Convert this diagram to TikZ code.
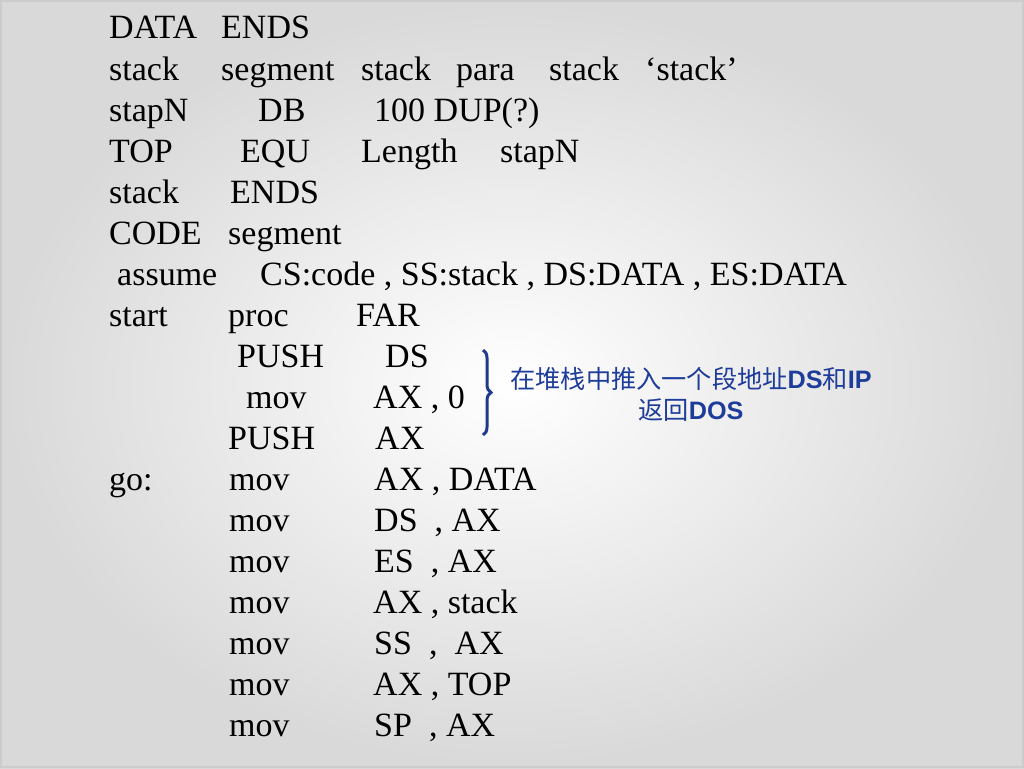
\documentclass[tikz,border=0pt]{standalone}
\usepackage{fontspec}
\setmainfont{Liberation Serif}
\newfontfamily\cjk{Noto Sans CJK SC}
\newfontfamily\arialb{Liberation Sans}[UprightFont=* Bold]
\usetikzlibrary{decorations.pathreplacing}
\definecolor{notecol}{HTML}{1E3C9A}
\definecolor{bracecol}{HTML}{1F3A8A}
\begin{document}
\begin{tikzpicture}[x=1pt,y=-1pt,
  code/.style={anchor=base west,inner sep=0pt,font=\fontsize{34}{40}\selectfont,text=black},
  notestyle/.style={align=center,inner sep=0pt,text=notecol,font=\cjk\fontsize{25.2}{31}\selectfont}]
\useasboundingbox (0,0) rectangle (1024,768);
\shade[inner color=white,outer color=black!15] (0,0) rectangle (1024,768);
\draw[black!20,line width=2pt] (1,1) rectangle (1023,767);
% line 1
\node[code] (l1a) at (109,39) {DATA};
\node[code] (l1b) at (221,39) {ENDS};
% line 2
\node[code] (l2a) at (109,80) {stack};
\node[code] (l2b) at (221,80) {segment};
\node[code] (l2c) at (361,80) {stack};
\node[code] (l2d) at (456,80) {para};
\node[code] (l2e) at (549,80) {stack};
\node[code] (l2f) at (645,80) {‘stack’};
% line 3
\node[code] (l3a) at (109,121) {stapN};
\node[code] (l3b) at (258,121) {DB};
\node[code] (l3c) at (374,121) {100 DUP(?)};
% line 4
\node[code] (l4a) at (109,162) {TOP};
\node[code] (l4b) at (240,162) {EQU};
\node[code] (l4c) at (361,162) {Length};
\node[code] (l4d) at (500,162) {stapN};
% line 5
\node[code] (l5a) at (109,203) {stack};
\node[code] (l5b) at (230,203) {ENDS};
% line 6
\node[code] (l6a) at (109,244) {CODE};
\node[code] (l6b) at (228,244) {segment};
% line 7
\node[code] (l7a) at (117,285) {assume};
\node[code] (l7b) at (260,285) {CS:code , SS:stack , DS:DATA , ES:DATA};
% line 8
\node[code] (l8a) at (109,326) {start};
\node[code] (l8b) at (228,326) {proc};
\node[code] (l8c) at (356,326) {FAR};
% line 9
\node[code] (l9a) at (237,367) {PUSH};
\node[code] (l9b) at (385,367) {DS};
% line 10
\node[code] (l10a) at (246,408) {mov};
\node[code] (l10b) at (373,408) {AX , 0};
% line 11
\node[code] (l11a) at (228,449) {PUSH};
\node[code] (l11b) at (375,449) {AX};
% line 12
\node[code] (l12g) at (109,490) {go:};
\node[code] (l12a) at (229,490) {mov};
\node[code] (l12b) at (374,490) {AX , DATA};
% lines 13-18
\node[code] (l13a) at (229,531) {mov};
\node[code] (l13b) at (374,531) {DS~~, AX};
\node[code] (l14a) at (229,572) {mov};
\node[code] (l14b) at (374,572) {ES~~, AX};
\node[code] (l15a) at (229,613) {mov};
\node[code] (l15b) at (373,613) {AX , stack};
\node[code] (l16a) at (229,654) {mov};
\node[code] (l16b) at (374,654) {SS~~,~~AX};
\node[code] (l17a) at (229,695) {mov};
\node[code] (l17b) at (373,695) {AX , TOP};
\node[code] (l18a) at (229,736) {mov};
\node[code] (l18b) at (374,736) {SP~~, AX};
% brace
\coordinate (btop) at (483,350);
\coordinate (bbot) at (483,435);
\draw[bracecol,line width=3pt,decorate,decoration={brace,amplitude=8pt,raise=0pt}] (btop) -- (bbot);
% note
\node[notestyle] (note) at (691,394) {在堆栈中推入一个段地址{\arialb DS}和{\arialb IP}\\返回{\arialb DOS}};
\end{tikzpicture}
\end{document}
